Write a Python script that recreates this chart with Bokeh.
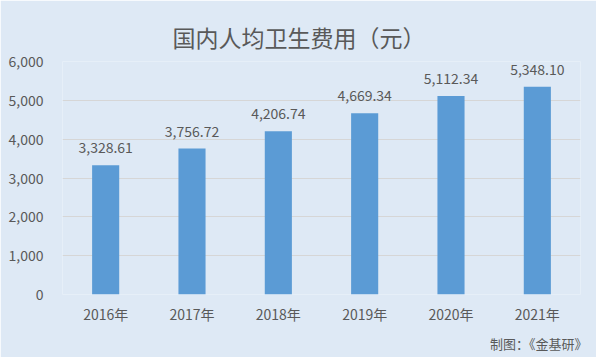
from bokeh.plotting import figure
from bokeh.models import Title, FixedTicker, NumeralTickFormatter, ColumnDataSource, Range1d
from bokeh.core.properties import value
from bokeh.embed import file_html
from bokeh.resources import INLINE

years = ["2016年", "2017年", "2018年", "2019年", "2020年", "2021年"]
spending = [3328.61, 3756.72, 4206.74, 4669.34, 5112.34, 5348.10]
y_ticks = [0, 1000, 2000, 3000, 4000, 5000, 6000]
title_text = "国内人均卫生费用（元）"
footer_text = "制图：《金基研》"

BG = "#dee9f5"
TXT = "#595959"
FONT = "Noto Sans CJK SC"

src = ColumnDataSource(dict(x=years, y=spending, lab=[f"{v:,.2f}" for v in spending]))

p = figure(width=596, height=357, x_range=years, y_range=Range1d(0, 6000),
           output_backend="svg", toolbar_location=None)
p.background_fill_color = BG
p.border_fill_color = BG
p.outline_line_color = None
p.min_border_left = 62
p.min_border_right = 16
p.min_border_top = 61
p.min_border_bottom = 63

p.vbar(x="x", top="y", width=0.314, source=src, color="#5b9bd5", line_color=None)
p.text(x="x", y="y", text="lab", source=src, y_offset=-12, text_align="center",
       text_baseline="bottom", text_font=value(FONT), text_font_size="14px", text_color=TXT)

p.yaxis.ticker = FixedTicker(ticks=y_ticks)
p.yaxis.formatter = NumeralTickFormatter(format="0,0")
p.ygrid.ticker = FixedTicker(ticks=y_ticks)
p.ygrid.grid_line_color = "#d6d6d6"
p.xgrid.grid_line_color = None
for ax in (p.xaxis, p.yaxis):
    ax.axis_line_color = None
    ax.major_tick_line_color = None
    ax.minor_tick_line_color = None
    ax.major_label_text_color = TXT
    ax.major_label_text_font = FONT
    ax.major_label_text_font_size = "14px"
p.yaxis.major_label_standoff = 13
p.xaxis.major_label_standoff = 3

p.title.text = title_text
p.title.align = "left"
p.title.offset = 110
p.title.standoff = 12
p.title.vertical_align = "top"
p.title.text_font = FONT
p.title.text_font_size = "23px"
p.title.text_font_style = "normal"
p.title.text_color = TXT

p.add_layout(Title(text=footer_text, align="right", offset=-7, text_font=FONT,
                   text_font_size="13px", text_font_style="normal",
                   text_color=TXT), "below")

open("out.html", "w").write(file_html(p, INLINE))
